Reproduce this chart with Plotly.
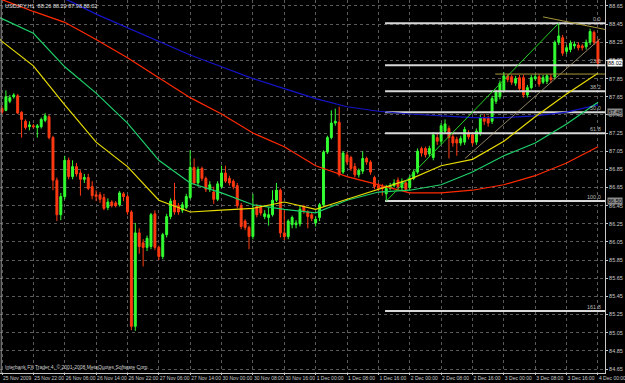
import plotly.graph_objects as go

# ---------------- data (USDJPY H1) ----------------
opens = [87.52,87.50,87.60,87.65,87.66,87.48,87.38,87.32,87.33,87.31,87.32,87.39,87.43,87.20,86.73,86.35,86.55,86.95,86.77,86.88,
         86.81,86.74,86.76,86.66,86.57,86.57,86.54,86.43,86.49,86.48,86.46,86.58,86.55,86.38,85.12,86.15,86.04,85.99,86.00,86.36,
         85.99,85.89,86.13,86.33,86.51,86.45,86.40,86.43,86.54,86.87,86.70,86.86,86.75,86.63,86.60,86.52,86.66,86.81,86.75,86.72,
         86.67,86.45,86.28,86.21,86.11,86.44,86.44,86.33,86.32,86.35,86.51,86.62,86.15,86.11,86.24,86.24,86.25,86.44,86.38,86.35,
         86.26,86.32,86.46,87.04,87.20,87.36,87.37,86.82,87.01,86.98,86.88,86.79,86.83,86.97,86.93,86.76,86.67,86.66,86.58,86.64,
         86.67,86.73,86.65,86.70,86.65,86.75,86.82,87.08,87.08,87.02,86.98,87.20,87.16,87.27,87.30,87.21,87.18,87.14,87.15,87.25,
         87.23,87.15,87.25,87.42,87.42,87.38,87.60,87.65,87.72,87.88,87.87,87.80,87.86,87.86,87.67,87.75,87.85,87.87,87.81,87.82,
         87.86,87.87,88.25,88.30,88.15,88.17,88.21,88.22,88.21,88.20,88.25,88.36,88.26]
highs = [87.55,87.72,87.67,87.69,87.68,87.49,87.40,87.38,87.35,87.35,87.42,87.47,87.45,87.22,86.76,86.59,87.00,86.98,86.95,86.92,
         86.84,86.80,86.80,86.72,86.62,86.60,86.58,86.53,86.51,86.50,86.61,86.60,86.57,86.40,86.26,86.20,86.08,86.12,86.37,86.40,
         86.01,86.15,86.36,86.53,86.70,86.48,86.49,86.58,87.06,86.97,86.88,86.88,86.77,86.72,86.66,86.72,86.89,86.89,86.78,86.74,
         86.70,86.48,86.30,86.23,86.58,86.47,86.46,86.40,86.43,86.62,86.70,86.64,86.40,86.30,86.34,86.29,86.45,86.46,86.40,86.37,
         86.33,86.48,87.06,87.22,87.50,87.52,87.54,87.05,87.04,87.00,86.92,86.86,87.05,86.99,86.95,86.78,86.70,86.69,86.68,86.70,
         86.74,86.76,86.75,86.73,86.78,86.85,87.08,87.10,87.10,87.11,87.26,87.24,87.36,87.40,87.33,87.24,87.21,87.22,87.32,87.28,
         87.26,87.30,87.45,87.46,87.44,87.66,87.73,87.83,87.92,87.90,87.89,87.88,87.89,87.89,87.78,87.89,87.90,87.90,87.89,87.90,
         87.90,88.27,88.46,88.33,88.22,88.27,88.26,88.25,88.23,88.28,88.40,88.38,88.29]
lows = [87.46,87.49,87.58,87.63,87.46,87.20,87.29,87.28,87.30,87.20,87.30,87.37,87.18,86.62,86.28,86.29,86.52,86.74,86.74,86.77,
        86.56,86.70,86.62,86.52,86.50,86.48,86.40,86.40,86.43,86.43,86.44,86.50,86.35,85.08,85.07,85.92,85.78,85.95,85.97,85.96,
        85.85,85.86,86.10,86.30,86.35,86.35,86.37,86.41,86.52,86.68,86.66,86.72,86.60,86.60,86.47,86.50,86.64,86.70,86.67,86.63,
        86.42,86.19,86.18,85.97,86.08,86.32,86.34,86.30,86.23,86.33,86.49,86.10,86.07,86.08,86.20,86.20,86.22,86.36,86.20,86.28,
        86.22,86.28,86.44,87.02,87.18,87.33,86.77,86.80,86.90,86.83,86.76,86.76,86.80,86.90,86.79,86.63,86.61,86.56,86.50,86.62,
        86.65,86.63,86.62,86.60,86.62,86.73,86.80,86.99,86.98,86.99,86.95,87.12,87.13,87.25,86.97,87.10,87.00,87.11,87.12,87.18,
        87.11,87.12,87.22,87.34,87.32,87.35,87.57,87.62,87.70,87.81,87.78,87.77,87.72,87.64,87.64,87.73,87.83,87.76,87.79,87.79,
        87.80,87.84,88.22,88.10,88.12,88.14,88.18,88.16,88.16,88.17,88.22,88.22,87.98]
closes = [87.48,87.65,87.64,87.67,87.47,87.40,87.31,87.34,87.32,87.33,87.40,87.44,87.20,86.73,86.35,86.55,86.95,86.77,86.88,86.80,
          86.74,86.76,86.64,86.56,86.55,86.52,86.42,86.49,86.45,86.45,86.59,86.55,86.38,85.12,86.15,86.00,85.99,86.09,86.35,85.99,
          85.89,86.13,86.33,86.50,86.38,86.38,86.46,86.55,86.87,86.70,86.85,86.75,86.63,86.68,86.52,86.69,86.81,86.72,86.70,86.66,
          86.45,86.22,86.21,86.11,86.41,86.35,86.37,86.36,86.35,86.51,86.62,86.15,86.11,86.28,86.32,86.26,86.41,86.39,86.33,86.31,
          86.30,86.46,87.04,87.20,87.36,87.38,86.79,87.03,86.93,86.86,86.79,86.84,86.97,86.93,86.82,86.66,86.64,86.64,86.64,86.67,
          86.70,86.66,86.71,86.63,86.75,86.82,87.05,87.03,87.01,87.08,87.23,87.16,87.33,87.35,87.20,87.14,87.14,87.19,87.29,87.21,
          87.14,87.27,87.42,87.38,87.36,87.63,87.70,87.80,87.88,87.84,87.81,87.85,87.74,87.67,87.75,87.86,87.87,87.79,87.86,87.88,
          87.84,88.25,88.32,88.13,88.19,88.24,88.23,88.19,88.19,88.25,88.37,88.25,88.02]

time_labels = ["25 Nov 2009", "25 Nov 22:00", "26 Nov 06:00", "26 Nov 14:00", "26 Nov 22:00",
               "27 Nov 06:00", "27 Nov 14:00", "30 Nov 00:00", "30 Nov 08:00", "30 Nov 16:00",
               "1 Dec 00:00", "1 Dec 08:00", "1 Dec 16:00", "2 Dec 00:00", "2 Dec 08:00",
               "2 Dec 16:00", "3 Dec 00:00", "3 Dec 08:00", "3 Dec 16:00", "4 Dec 00:00"]

# moving averages sampled every 8 bars
ma_bars = [-1, 0, 8, 16, 24, 32, 40, 48, 56, 64, 72, 80, 88, 96, 104, 112, 120, 128, 136, 144, 152]
ma_yellow = [88.30, 88.26, 87.99, 87.56, 87.15, 86.88, 86.51, 86.38, 86.40, 86.42, 86.49, 86.41, 86.52, 86.63,
             86.74, 86.89, 86.96, 87.16, 87.43, 87.68, 87.91]
ma_green = [88.53, 88.51, 88.35, 87.98, 87.69, 87.36, 86.95, 86.70, 86.59, 86.46, 86.41, 86.37, 86.51, 86.60,
            86.62, 86.68, 86.82, 87.00, 87.14, 87.35, 87.59]
ma_red = [88.74, 88.72, 88.59, 88.47, 88.28, 88.08, 87.86, 87.64, 87.46, 87.25, 87.10, 86.89, 86.77, 86.68,
          86.59, 86.59, 86.62, 86.68, 86.78, 86.92, 87.10]
ma_blue_bars = [0, 18, 24, 32, 40, 48, 56, 64, 72, 80, 88, 96, 104, 112, 120, 128, 136, 144, 152]
ma_blue = [89.03, 88.69, 88.56, 88.41, 88.26, 88.11, 87.98, 87.85, 87.74, 87.63, 87.54, 87.49, 87.46, 87.44,
           87.42, 87.42, 87.44, 87.48, 87.56]

# Fibonacci retracement
fib_low_bar, fib_high_bar = 98, 142
fib_low, fib_high = 86.50, 88.46
fib_ratios = [0.0, 23.6, 38.2, 50.0, 61.8, 100.0, 161.8]

# other drawn lines
trend_tan = ([118.1, 152.6], [86.97, 88.29])
olive_top = ([138.0, 154.0], [88.53, 88.39])
olive_flat = ([125.8, 154.0], [87.90, 87.90])

current_price = 88.02
title_txt = "USDJPY,H1  88.26 88.29 87.98 88.02"
copyright_txt = "Interbank FX Trader 4, \u00a9 2001-2008 MetaQuotes Software Corp."

# ---------------- figure ----------------
n = len(opens)
xs = list(range(n))
fig = go.Figure()

axis_txt = "#c8c8c8"

def add_line(x, y, color, width=1):
    fig.add_trace(go.Scatter(x=x, y=y, mode="lines", line=dict(color=color, width=width),
                             hoverinfo="skip", showlegend=False))

# Fibonacci levels
fib_prices = [fib_high - r / 100.0 * (fib_high - fib_low) for r in fib_ratios]
for p in fib_prices:
    add_line([fib_low_bar - 0.3, 155], [p, p], "#d8d8d8", 2)

add_line(ma_bars, ma_red, "#ff2a00", 1.2)
add_line(ma_blue_bars, ma_blue, "#1414c8", 1.2)
add_line(ma_bars, ma_green, "#1ed06a", 1.2)
add_line(ma_bars, ma_yellow, "#e8dc00", 1.2)

# drawn lines
add_line([fib_low_bar, fib_high_bar], [fib_low, fib_high], "#22d422", 1)
add_line(*trend_tan, "#b4a478", 0.8)
add_line(*olive_top, "#a8983a", 1)
add_line(*olive_flat, "#a8983a", 1)

fig.add_trace(go.Candlestick(
    x=xs, open=opens, high=highs, low=lows, close=closes,
    increasing=dict(line=dict(color="#33ff33", width=1), fillcolor="#33ff33"),
    decreasing=dict(line=dict(color="#ff3a12", width=1), fillcolor="#ff3a12"),
    whiskerwidth=0, hoverinfo="skip", showlegend=False))

annotations = []
for r, p in zip(fib_ratios, fib_prices):
    annotations.append(dict(x=153.4, y=p, xref="x", yref="y", text="%.1f" % r, showarrow=False,
                            xanchor="right", yanchor="bottom", yshift=-1,
                            font=dict(size=5.5, color="#b8b8b8", family="Liberation Sans")))
annotations.append(dict(x=0.005, y=0.998, xref="paper", yref="paper", text=title_txt, showarrow=False,
                        xanchor="left", yanchor="top",
                        font=dict(size=5.5, color="#e0e0e0", family="Liberation Sans")))
annotations.append(dict(x=0.005, y=0.004, xref="paper", yref="paper", text=copyright_txt, showarrow=False,
                        xanchor="left", yanchor="bottom",
                        font=dict(size=5, color="#d0d0d0", family="Liberation Sans")))
# price boxes on the axis
for p, bg, fg in [(current_price, "#ffffff", "#000000"), (fib_low, "#8a8a8a", "#000000"),
                  (fib_prices[3], "#8a8a8a", "#000000")]:
    annotations.append(dict(x=1, y=p, xref="paper", yref="y", text="%.2f" % p, showarrow=False,
                            xanchor="left", yanchor="middle", xshift=2, bgcolor=bg, borderpad=0,
                            font=dict(size=5.5, color=fg, family="Liberation Sans")))

fig.update_layout(
    width=625, height=383,
    margin=dict(l=0, r=20, t=0, b=10),
    paper_bgcolor="#000000", plot_bgcolor="#000000",
    showlegend=False,
    annotations=annotations,
    xaxis=dict(range=[-0.51, 153.8], tickmode="array",
               tickvals=[8 * i for i in range(len(time_labels))], ticktext=time_labels,
               tickangle=0, ticklabeloverflow="allow",
               ticklabelposition="outside right", ticks="outside", ticklen=1, tickcolor=axis_txt,
               tickfont=dict(size=5, color=axis_txt, family="Liberation Sans"),
               showgrid=True, gridcolor="#5a5a5a", griddash="dot", gridwidth=1,
               showline=True, linecolor="#c8c8c8", linewidth=1, mirror=False,
               zeroline=False, rangeslider=dict(visible=False), automargin=False, fixedrange=True),
    yaxis=dict(range=[84.606, 88.716], side="right", tick0=84.65, dtick=0.2, tickformat=".2f",
               ticks="outside", ticklen=2, tickcolor=axis_txt,
               tickfont=dict(size=5.5, color=axis_txt, family="Liberation Sans"),
               showgrid=True, gridcolor="#5a5a5a", griddash="dot", gridwidth=1,
               showline=True, linecolor="#c8c8c8", linewidth=1,
               zeroline=False, automargin=False, fixedrange=True),
    shapes=[dict(type="line", xref="paper", yref="paper", x0=0.002, x1=0.002, y0=0, y1=1,
                 line=dict(color="#9a9a9a", width=1))],
)

fig.write_html("out.html")
